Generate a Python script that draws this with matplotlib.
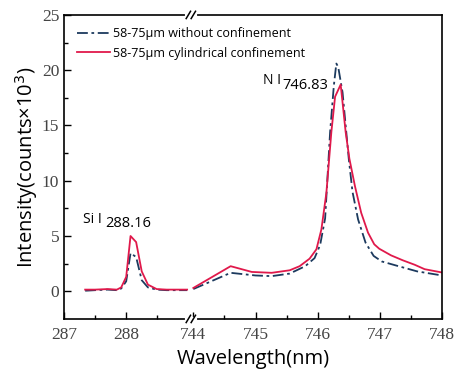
import matplotlib
matplotlib.use('Agg')
import matplotlib.pyplot as plt
import numpy as np

# ---- data ----
si_x = [287.34, 287.5, 287.7, 287.85, 287.92, 288.0, 288.07, 288.16, 288.25,
        288.35, 288.49, 288.65, 288.8, 288.98]
si_cyl = [0.15, 0.15, 0.2, 0.15, 0.35, 1.3, 5.0, 4.45, 1.8, 0.6, 0.2, 0.15, 0.15, 0.15]
si_free = [0.05, 0.1, 0.15, 0.1, 0.25, 0.9, 3.45, 3.1, 1.0, 0.35, 0.15, 0.1, 0.1, 0.1]

n_cyl_x = [744.0, 744.6, 744.94, 745.26, 745.55, 745.71, 745.87, 745.98, 746.06,
           746.14, 746.22, 746.28, 746.37, 746.45, 746.51, 746.6, 746.7, 746.81,
           746.91, 746.99, 747.18, 747.37, 747.56, 747.72, 748.0]
n_cyl = [0.3, 2.27, 1.75, 1.67, 1.9, 2.27, 2.95, 3.8, 5.6, 8.9, 14.4, 17.6, 18.7,
         14.4, 12.0, 9.5, 7.1, 5.3, 4.25, 3.85, 3.25, 2.8, 2.4, 2.0, 1.7]
n_free_x = [744.0, 744.6, 745.0, 745.26, 745.55, 745.8, 745.95, 746.04, 746.12,
            746.2, 746.26, 746.3, 746.33, 746.4, 746.45, 746.5, 746.56, 746.65,
            746.77, 746.9, 747.03, 747.3, 747.6, 748.0]
n_free = [0.2, 1.67, 1.43, 1.37, 1.6, 2.27, 3.0, 4.2, 6.6, 14.4, 18.6, 20.6, 20.3,
          18.0, 15.0, 12.0, 9.0, 6.5, 4.4, 3.2, 2.7, 2.27, 1.8, 1.43]

major_ticks = [287, 288, 744, 745, 746, 747, 748]
minor_ticks = [287.5, 288.5, 744.5, 745.5, 746.5, 747.5]

# broken axis: 287-289 then 744-748 on one shared axis
LEFT_LO, LEFT_HI, RIGHT_LO, RIGHT_HI = 287.0, 289.0, 744.0, 748.0
GAP = 0.08


def bx(x):
    x = np.asarray(x, dtype=float)
    return np.where(x < 500, x - LEFT_LO, x - RIGHT_LO + (LEFT_HI - LEFT_LO) + GAP)


BLUE = '#1c3a5e'
RED = '#e0194b'
GREY = '#444444'

fig = plt.figure(figsize=(4.54, 3.73), dpi=100)
ax = fig.add_axes([0.141, 0.145, 0.8326, 0.815])

ax.plot(bx(si_x), si_free, color=BLUE, lw=1.3, ls=(0, (6, 2, 1.5, 2)),
        label='58-75µm without confinement')
ax.plot(bx(si_x), si_cyl, color=RED, lw=1.3, label='58-75µm cylindrical confinement')
ax.plot(bx(n_free_x), n_free, color=BLUE, lw=1.3, ls=(0, (6, 2, 1.5, 2)))
ax.plot(bx(n_cyl_x), n_cyl, color=RED, lw=1.3)

ax.set_xlim(0, float(bx([RIGHT_HI])[0]))
ax.set_ylim(-2.5, 25)

ax.set_xticks(bx(major_ticks))
ax.set_xticklabels([str(t) for t in major_ticks])
ax.set_xticks(bx(minor_ticks), minor=True)
ax.set_yticks([0, 5, 10, 15, 20, 25])
ax.set_yticks([2.5, 7.5, 12.5, 17.5, 22.5], minor=True)
ax.tick_params(which='both', direction='in', width=1.0, colors='black',
               labelcolor=GREY, labelsize=12.5)
ax.tick_params(which='major', length=5)
ax.tick_params(which='minor', length=3)
for lab in ax.get_xticklabels() + ax.get_yticklabels():
    lab.set_family('Liberation Serif')
ax.tick_params(axis='x', pad=6)
for sp in ax.spines.values():
    sp.set_linewidth(1.2)

ax.set_xlabel('Wavelength(nm)', family='Open Sans', fontsize=14.5, labelpad=4)
ax.set_ylabel('Intensity(counts×10$^3$)', family='Open Sans', fontsize=14.5, labelpad=1)

# break marks on top and bottom spines
bpos = (LEFT_HI - LEFT_LO) + GAP / 2
for yy in (0, 1):
    ax.plot([bpos - 0.06, bpos + 0.06], [yy, yy], transform=ax.get_xaxis_transform(),
            color='white', lw=3, clip_on=False, zorder=5)
    for dx in (-0.04, 0.04):
        ax.plot([bpos + dx - 0.035, bpos + dx + 0.035], [yy - 0.012, yy + 0.012],
                transform=ax.get_xaxis_transform(), color='black', lw=1.1,
                clip_on=False, zorder=6)

# peak labels
ax.text(bx([287.3])[0], 6.5, 'Si I', family='Open Sans', fontsize=10, va='center')
ax.text(bx([287.66])[0], 6.1, '288.16', family='Open Sans', fontsize=10.5, va='center')
ax.text(bx([745.12])[0], 19.1, 'N I', family='Open Sans', fontsize=10, va='center')
ax.text(bx([745.44])[0], 18.6, '746.83', family='Open Sans', fontsize=10.5, va='center')

leg = ax.legend(loc='upper left', frameon=False, handlelength=2.7, handletextpad=0.2,
                borderaxespad=0.6, labelspacing=0.5,
                prop={'family': 'Open Sans', 'size': 9})

fig.savefig('out.png', dpi=100)
